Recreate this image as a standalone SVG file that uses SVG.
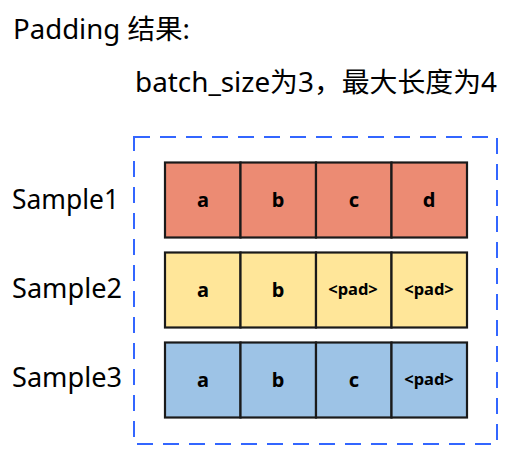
<svg xmlns="http://www.w3.org/2000/svg" width="530" height="459" viewBox="0 0 530 459">
<style>
.t{font-family:"Noto Sans","Noto Sans CJK SC",sans-serif;font-size:27px;fill:#000}
.c{stroke:#1a1a1a;stroke-width:2.2}
.r1{fill:#EC8B73}.r2{fill:#FFE699}.r3{fill:#9DC3E6}
.l{font-family:"Noto Sans",sans-serif;font-weight:bold;font-size:20px;text-anchor:middle;fill:#000}
.p{font-size:16.5px}
</style>
<rect width="530" height="459" fill="#fff"/>
<text class="t" x="13" y="39" textLength="177" lengthAdjust="spacingAndGlyphs">Padding 结果:</text>
<text class="t" x="135" y="92" textLength="362" lengthAdjust="spacingAndGlyphs">batch_size为3，最大长度为4</text>
<g id="connectors"></g>
<g id="batch">
<rect x="134" y="137" width="363" height="307" fill="none" stroke="#3366FF" stroke-width="2" stroke-dasharray="16,10"/>
</g>
<g id="sample1">
<text class="t" x="12" y="208.5" textLength="107" lengthAdjust="spacingAndGlyphs">Sample1</text>
<rect class="c r1" x="165" y="162.5" width="75.5" height="75"/>
<rect class="c r1" x="240.5" y="162.5" width="75.5" height="75"/>
<rect class="c r1" x="316" y="162.5" width="75.5" height="75"/>
<rect class="c r1" x="391.5" y="162.5" width="75.5" height="75"/>
<text class="l" x="203" y="207">a</text>
<text class="l" x="278" y="207">b</text>
<text class="l" x="354" y="207">c</text>
<text class="l" x="429" y="207">d</text>
</g>
<g id="sample2">
<text class="t" x="12" y="298" textLength="110" lengthAdjust="spacingAndGlyphs">Sample2</text>
<rect class="c r2" x="165" y="252.5" width="75.5" height="75"/>
<rect class="c r2" x="240.5" y="252.5" width="75.5" height="75"/>
<rect class="c r2" x="316" y="252.5" width="75.5" height="75"/>
<rect class="c r2" x="391.5" y="252.5" width="75.5" height="75"/>
<text class="l" x="203" y="297">a</text>
<text class="l" x="278" y="297">b</text>
<text class="l p" x="353" y="295">&lt;pad&gt;</text>
<text class="l p" x="429" y="295">&lt;pad&gt;</text>
</g>
<g id="sample3">
<text class="t" x="12" y="387" textLength="110" lengthAdjust="spacingAndGlyphs">Sample3</text>
<rect class="c r3" x="165" y="342.5" width="75.5" height="75"/>
<rect class="c r3" x="240.5" y="342.5" width="75.5" height="75"/>
<rect class="c r3" x="316" y="342.5" width="75.5" height="75"/>
<rect class="c r3" x="391.5" y="342.5" width="75.5" height="75"/>
<text class="l" x="203" y="387">a</text>
<text class="l" x="278" y="387">b</text>
<text class="l" x="354" y="387">c</text>
<text class="l p" x="429" y="385">&lt;pad&gt;</text>
</g>
</svg>
